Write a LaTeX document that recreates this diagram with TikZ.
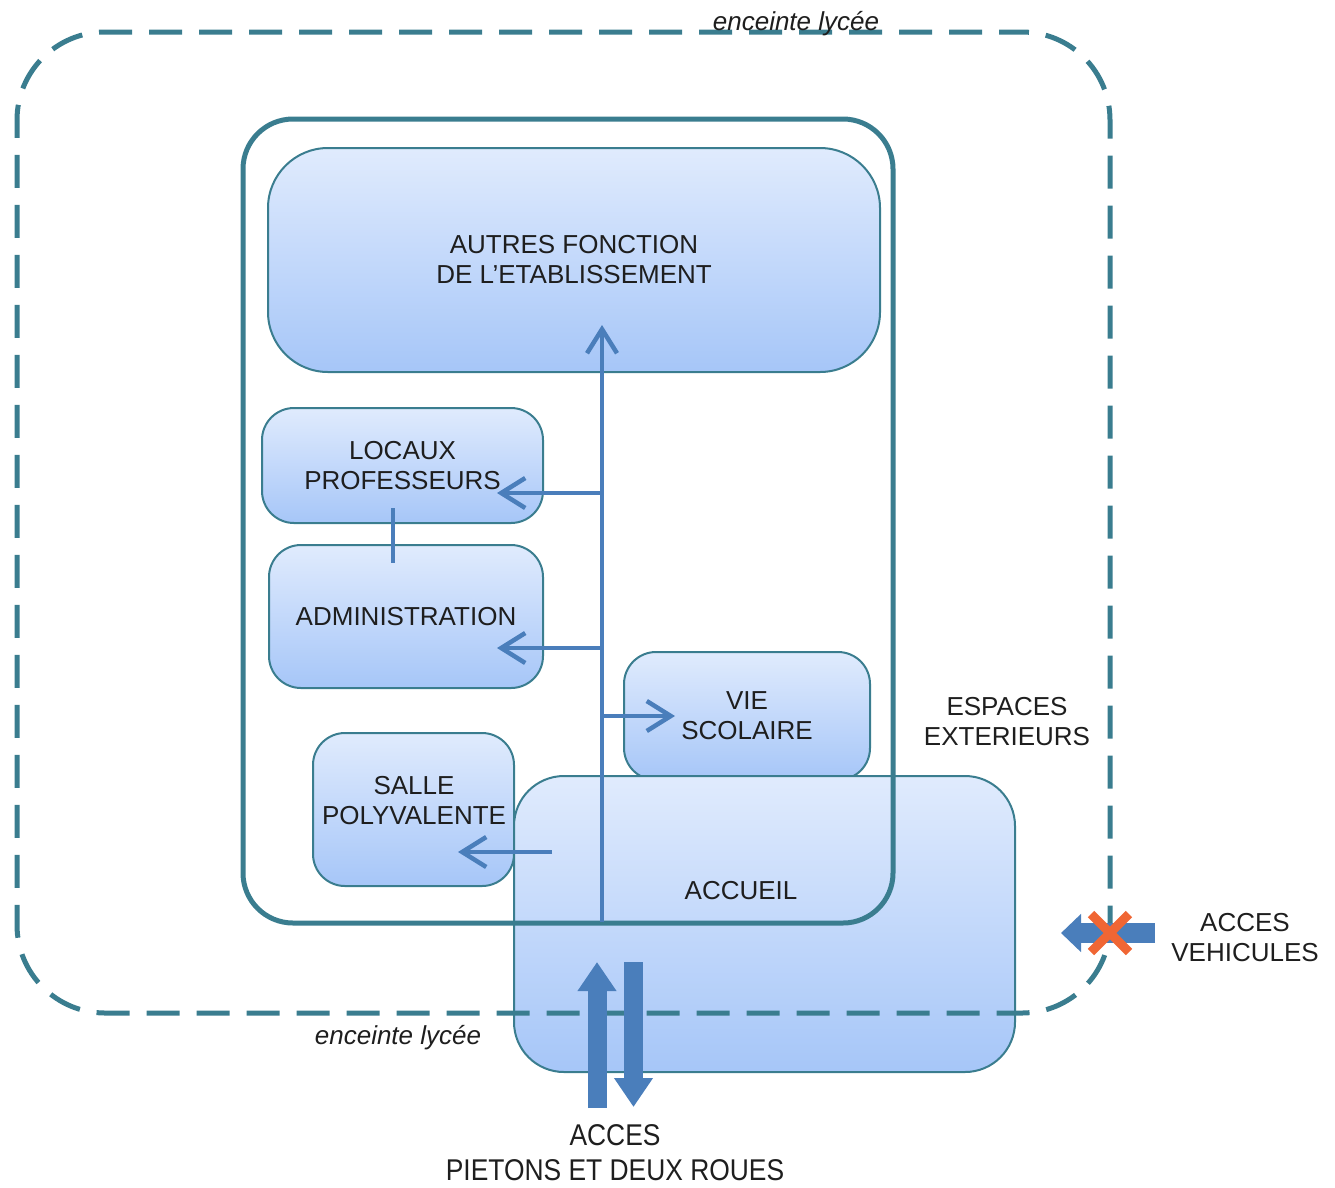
\documentclass[tikz,border=0pt]{standalone}
\usepackage{fontspec}
\setmainfont{Liberation Sans}
\newfontfamily\narrowfont{Liberation Sans}[FakeStretch=0.88]
\usetikzlibrary{arrows.meta}

\definecolor{frameteal}{RGB}{58,125,143}
\definecolor{flowblue}{RGB}{74,126,187}
\definecolor{boxtop}{RGB}{224,235,253}
\definecolor{boxbottom}{RGB}{166,198,248}
\definecolor{crossorange}{RGB}{240,102,52}
\definecolor{inkgray}{RGB}{30,30,30}

\begin{document}
\begin{tikzpicture}[x=1pt,y=-1pt,
  room/.style={draw=frameteal, line width=2pt, top color=boxtop, bottom color=boxbottom,
    rounded corners=#1, inner sep=0pt, text=inkgray, align=center,
    font=\fontsize{26}{30}\selectfont},
  room/.default=32pt,
  roomtext/.style={text=inkgray, align=center, inner sep=0pt, font=\fontsize{26}{30}\selectfont},
  flow/.style={draw=flowblue, line width=4pt},
  flowarrow/.style={flow, -{Straight Barb[length=24pt,width=30pt,line width=4.5pt]}},
  bigarrow/.style={draw=flowblue, line width=19pt, -{Triangle[length=29pt,width=37pt]}},
  enceinte/.style={text=inkgray, inner sep=0pt, anchor=base, font=\fontsize{26}{30}\selectfont\itshape},
]
\useasboundingbox (0,0) rectangle (1335,1187);

% rooms of the building
\node[room=60pt, minimum width=612pt, minimum height=224pt] (autres) at (574,260)
  {AUTRES FONCTION\\DE L’ETABLISSEMENT};
\node[room, minimum width=281pt, minimum height=115pt] (locaux) at (402.5,465.5)
  {LOCAUX\\PROFESSEURS};
\node[room, minimum width=274pt, minimum height=143pt] (admin) at (406,616.5)
  {ADMINISTRATION};
\node[room, minimum width=246pt, minimum height=128pt] (vie) at (747,716)
  {VIE\\SCOLAIRE};
\node[room, minimum width=201pt, minimum height=153pt] (salle) at (413.5,809.5) {};
\node[roomtext] (salletxt) at (414,801) {SALLE\\POLYVALENTE};
\node[room=50pt, minimum width=501pt, minimum height=296pt] (accueil) at (764.5,924) {};
\node[roomtext] (accueiltxt) at (741,891) {ACCUEIL};

% building outline
\node[draw=frameteal, line width=5pt, rounded corners=50pt, inner sep=0pt,
  minimum width=650pt, minimum height=804pt] (batiment) at (568,521) {};

% school enclosure
\node[draw=frameteal, line width=5pt, rounded corners=88pt, inner sep=0pt,
  dash pattern=on 33pt off 17pt, dash phase=10pt,
  minimum width=1093pt, minimum height=981pt] (enceinte) at (563.5,522.5) {};

\node[enceinte] (enceintehaut) at (796,30) {enceinte lycée};
\node[enceinte] (enceintebas) at (398,1044) {enceinte lycée};

\node[roomtext] (espaces) at (1007,722) {ESPACES\\EXTERIEURS};
\node[roomtext] (vehicules) at (1245,938) {ACCES\\VEHICULES};
\node[text=inkgray, align=center, inner sep=0pt, font=\narrowfont\fontsize{30}{35}\selectfont]
  (pietons) at (615,1153) {ACCES\\PIETONS ET DEUX ROUES};

% circulation inside the building
\coordinate (depart) at (602,922);
\coordinate (haut) at (602,325);
\coordinate (nlocaux) at (602,493);
\coordinate (nadmin) at (602,648);
\coordinate (nvie) at (602,716);
\coordinate (dsalle) at (552,852);
\draw[flowarrow] (depart) -- (haut);
\draw[flowarrow] (nlocaux) -- (497,493);
\draw[flowarrow] (nadmin) -- (497,648);
\draw[flowarrow] (nvie) -- (675,716);
\draw[flowarrow] (dsalle) -- (458,852);
\draw[flow] (393,508) -- (393,563);

% pedestrian access
\coordinate (entreeq) at (597,1108);
\coordinate (entreet) at (597,962);
\coordinate (sortieq) at (633.5,962);
\coordinate (sortiet) at (633.5,1107);
\draw[bigarrow] (entreeq) -- (entreet);
\draw[bigarrow] (sortieq) -- (sortiet);

% vehicle access, forbidden
\coordinate (vehq) at (1155,933);
\coordinate (veht) at (1061,933);
\draw[draw=flowblue, line width=20pt, -{Triangle[length=20pt,width=37pt]}] (vehq) -- (veht);
\draw[crossorange, line width=9pt] (1091,914) -- (1129,952) (1091,952) -- (1129,914);
\end{tikzpicture}
\end{document}
